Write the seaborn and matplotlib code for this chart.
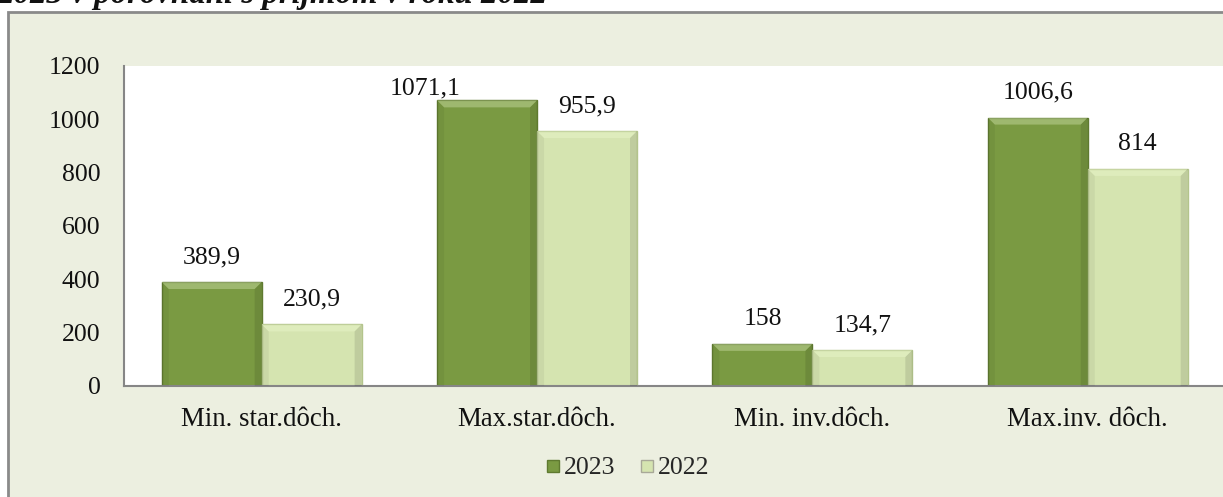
import seaborn as sns
import matplotlib.pyplot as plt
import pandas as pd
from matplotlib.patches import Rectangle
from matplotlib.lines import Line2D

categories = ['Min. star.dôch.', 'Max.star.dôch.', 'Min. inv.dôch.', 'Max.inv. dôch.']
years = ['2023', '2022']
vals_2023 = [389.9, 1071.1, 158, 1006.6]
vals_2022 = [230.9, 955.9, 134.7, 814]
labels_2023 = ['389,9', '1071,1', '158', '1006,6']
labels_2022 = ['230,9', '955,9', '134,7', '814']

BG = '#ecefe0'
FRAME = '#8a8a8a'
AXIS = '#868686'
C23, C22 = '#7a9a42', '#d5e4b0'
E23, E22 = '#5f7a30', '#b3c48c'

sns.set_theme(style='white')
plt.rcParams['font.family'] = ['Liberation Serif', 'DejaVu Serif']

rows = []
for c, a, b in zip(categories, vals_2023, vals_2022):
    rows.append({'cat': c, 'year': '2023', 'val': a})
    rows.append({'cat': c, 'year': '2022', 'val': b})
df = pd.DataFrame(rows)

W, H = 1223, 497
fig = plt.figure(figsize=(W / 100, H / 100), dpi=100, facecolor='white')
fig.patches.append(Rectangle((8 / W, -0.05), 1.2, (H - 12) / H + 0.05,
                             transform=fig.transFigure, facecolor=BG,
                             edgecolor=FRAME, lw=2, zorder=-5))
fig.text(-0.002, 1 - 3 / H, '2023 v porovnaní s príjmom v roku 2022',
         fontsize=23.7, fontstyle='italic', fontweight='bold', color='#111111',
         va='baseline', ha='left')

ax = fig.add_axes([124 / W, 111 / H, (W - 124) / W + 0.002, 320 / H])
ax.set_zorder(2)
ax.set_facecolor('white')
sns.barplot(data=df, x='cat', y='val', hue='year', order=categories,
            hue_order=years, palette=[C23, C22], width=0.726, gap=0,
            ax=ax, legend=False, saturation=1)
ax.set_ylim(0, 1200)
ax.set_xlim(-0.5, 3.5)

# bevel look of the Excel bars
bx, by = 7 * 4 / 1099, 7 * 1200 / 320
for bars, ec in zip(ax.containers, [E23, E22]):
    for b in bars:
        b.set_edgecolor(ec)
        b.set_linewidth(1.0)
        x0, w, h = b.get_x(), b.get_width(), b.get_height()
        x1 = x0 + w
        ax.fill([x0, x1, x1 - bx, x0 + bx], [h, h, h - by, h - by],
                color='#f4ffd8', alpha=0.3, lw=0, zorder=3)
        ax.fill([x0, x0 + bx, x0 + bx, x0], [0, 0, h - by, h],
                color='black', alpha=0.05, lw=0, zorder=3)
        ax.fill([x1, x1 - bx, x1 - bx, x1], [0, 0, h - by, h],
                color='black', alpha=0.1, lw=0, zorder=3)

# data labels (Excel moved the tallest one to the left)
offsets = {('2023', 1): (-44.6, 4.3)}
for yi, (bars, labs) in enumerate(zip(ax.containers, [labels_2023, labels_2022])):
    for i, (b, t) in enumerate(zip(bars, labs)):
        dx, dy = offsets.get((years[yi], i), (0, 13.7))
        ax.annotate(t, xy=(b.get_x() + b.get_width() / 2, b.get_height()),
                    xytext=(dx, dy), textcoords='offset points',
                    ha='center', va='baseline', fontsize=18.5, color='#111111')

ax.set_yticks(range(0, 1201, 200))
ax.set_xlabel('')
ax.set_ylabel('')
ax.tick_params(axis='y', length=0, pad=17, labelsize=18.5, labelcolor='#111111')
ax.tick_params(axis='x', length=0, pad=15, labelsize=19.4, labelcolor='#111111')
for s in ['top', 'right']:
    ax.spines[s].set_visible(False)
for s in ['left', 'bottom']:
    ax.spines[s].set_color(AXIS)
    ax.spines[s].set_linewidth(1.5)

handles = [Line2D([], [], marker='s', ls='', markersize=8, markerfacecolor=C23,
                  markeredgecolor=E23),
           Line2D([], [], marker='s', ls='', markersize=8, markerfacecolor=C22,
                  markeredgecolor='#a8a898')]
fig.legend(handles, years, loc='center', bbox_to_anchor=(626 / W, 1 - 468 / H),
           ncol=2, frameon=False, fontsize=18.5, handletextpad=0.05,
           columnspacing=0.8, handlelength=0.8)

fig.savefig('out.png', dpi=100, facecolor='white')
